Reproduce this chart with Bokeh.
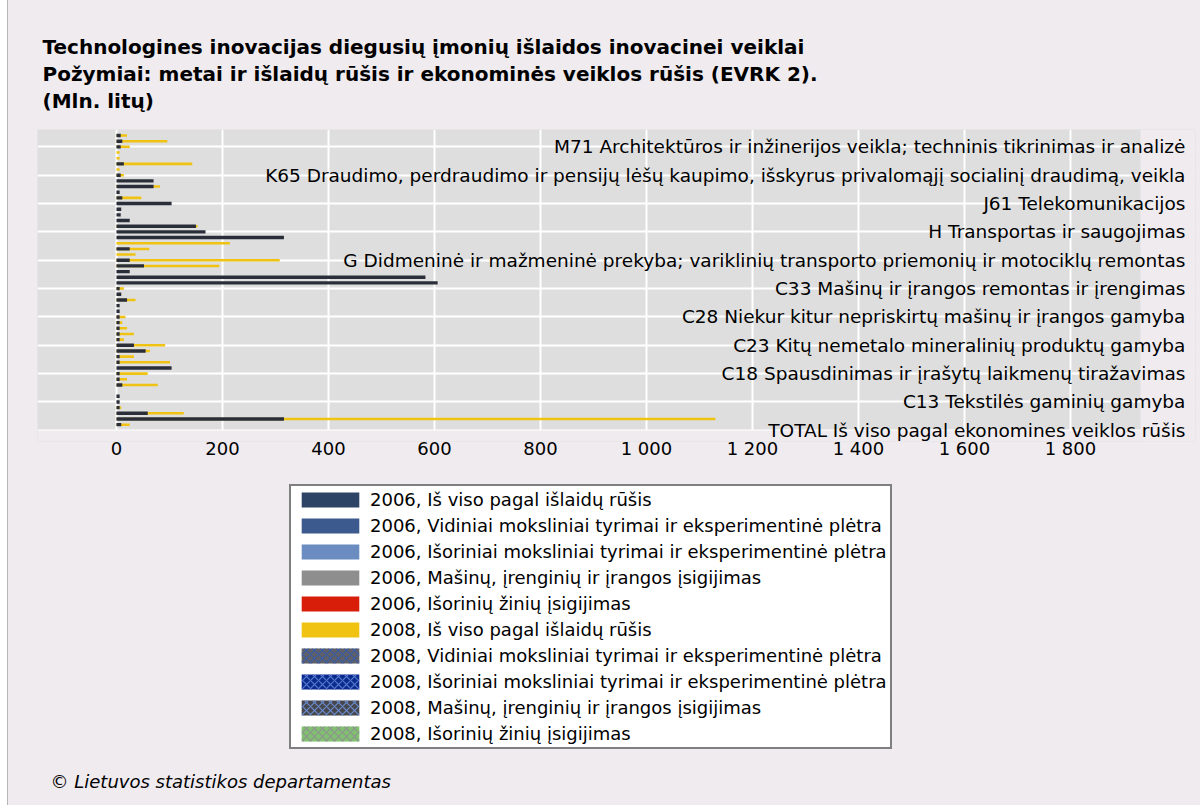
from bokeh.plotting import figure
from bokeh.layouts import column
from bokeh.models import (Range1d, FixedTicker, ColumnDataSource, LabelSet, Title, Label,
                          Legend, LegendItem, BoxAnnotation)
from bokeh.core.properties import value
from bokeh.embed import file_html
from bokeh.resources import INLINE
import numpy as np

# ---------------- data ----------------
title_lines = [
    "Technologines inovacijas diegusių įmonių išlaidos inovacinei veiklai",
    "Požymiai: metai ir išlaidų rūšis ir ekonominės veiklos rūšis (EVRK 2).",
    "(Mln. litų)",
]
credit = "© Lietuvos statistikos departamentas"

activity_labels = [
    "M71 Architektūros ir inžinerijos veikla; techninis tikrinimas ir analizė",
    "K65 Draudimo, perdraudimo ir pensijų lėšų kaupimo, išskyrus privalomąjį socialinį draudimą, veikla",
    "J61 Telekomunikacijos",
    "H Transportas ir saugojimas",
    "G Didmeninė ir mažmeninė prekyba; variklinių transporto priemonių ir motociklų remontas",
    "C33 Mašinų ir įrangos remontas ir įrengimas",
    "C28 Niekur kitur nepriskirtų mašinų ir įrangos gamyba",
    "C23 Kitų nemetalo mineralinių produktų gamyba",
    "C18 Spausdinimas ir įrašytų laikmenų tiražavimas",
    "C13 Tekstilės gaminių gamyba",
    "TOTAL Iš viso pagal ekonomines veiklos rūšis",
]
label_rows = [2, 7, 12, 17, 22, 27, 32, 37, 42, 47, 52]

# bar rows, top to bottom (mln. Lt)
v2006 = [8, 11, 8, 0, 0, 14, 0, 8, 70, 70, 6, 11, 104, 9, 8, 25, 150,
         168, 316, 0, 25, 0, 25, 52, 25, 583, 606, 6, 9, 20, 6, 6, 6,
         6, 6, 6, 6, 33, 55, 6, 6, 104, 6, 6, 11, 0, 6, 6, 6, 59, 316, 9]
v2008 = [20, 96, 25, 6, 6, 143, 6, 14, 0, 82, 0, 47, 0, 0, 0, 0, 153,
         0, 0, 214, 62, 36, 308, 194, 0, 0, 0, 14, 0, 36, 0, 0, 17,
         11, 20, 33, 14, 92, 63, 33, 101, 0, 59, 20, 78, 0, 0, 0, 9, 127, 1130, 25]

series_names = [
    "2006, Iš viso pagal išlaidų rūšis",
    "2006, Vidiniai moksliniai tyrimai ir eksperimentinė plėtra",
    "2006, Išoriniai moksliniai tyrimai ir eksperimentinė plėtra",
    "2006, Mašinų, įrenginių ir įrangos įsigijimas",
    "2006, Išorinių žinių įsigijimas",
    "2008, Iš viso pagal išlaidų rūšis",
    "2008, Vidiniai moksliniai tyrimai ir eksperimentinė plėtra",
    "2008, Išoriniai moksliniai tyrimai ir eksperimentinė plėtra",
    "2008, Mašinų, įrenginių ir įrangos įsigijimas",
    "2008, Išorinių žinių įsigijimas",
]
series_colors = ["#2e4467", "#3d5a8e", "#6b8cc0", "#8e8e8e", "#d81e08",
                 "#f0c312", "#5e6066", "#0b2c8e", "#45474c", "#80c070"]
series_hatch = [None, None, None, None, None,
                None, "x", "x", "x", "x"]
series_hatch_colors = [None, None, None, None, None,
                       None, "#3a5aa8", "#5577cc", "#6a8ad0", "#8c948c"]

x_ticks = [0, 200, 400, 600, 800, 1000, 1200, 1400, 1600, 1800]
x_tick_text = ["0", "200", "400", "600", "800", "1 000", "1 200", "1 400", "1 600", "1 800"]
axis_end = 1932          # end of the grey plotting area
row_end = 52.03          # bottom of the grey plotting area (row units)
label_x = 2017           # right edge of the category texts

BG = "#efebef"
W = 1192

# ---------------- main chart ----------------
p = figure(width=W, height=470, output_backend="svg", toolbar_location=None,
           x_range=Range1d(-149, 2036), y_range=Range1d(53.97, -1.06),
           y_axis_location=None, background_fill_color="#dedede",
           border_fill_color=BG, outline_line_color=None,
           min_border_left=29, min_border_right=5, min_border_top=129,
           min_border_bottom=29)

p.xgrid.ticker = FixedTicker(ticks=x_ticks)
p.xgrid.grid_line_color = "white"
p.xgrid.grid_line_width = 2
p.ygrid.ticker = FixedTicker(ticks=label_rows)
p.ygrid.grid_line_color = "white"
p.ygrid.grid_line_width = 2

# page-coloured strips outside the grey area (cover grid lines there)
p.add_layout(BoxAnnotation(left=axis_end, fill_color=BG, fill_alpha=1,
                           line_color=None, level="underlay"))
p.add_layout(BoxAnnotation(top=row_end, fill_color=BG, fill_alpha=1,
                           line_color=None, level="underlay"))

ax = p.xaxis[0]
ax.ticker = FixedTicker(ticks=x_ticks)
ax.major_label_overrides = {t: s for t, s in zip(x_ticks, x_tick_text)}
ax.axis_line_color = None
ax.major_tick_line_color = None
ax.minor_tick_line_color = None
ax.major_tick_out = 0
ax.major_tick_in = 0
ax.major_label_standoff = -4
ax.major_label_text_font = "DejaVu Sans"
ax.major_label_text_font_size = "18px"
ax.major_label_text_color = "black"

rows = np.arange(len(v2006))
a06 = np.array(v2006, dtype=float)
a08 = np.array(v2008, dtype=float)
m06 = a06 > 0
m08 = a08 > 0
src08 = ColumnDataSource(dict(y=rows[m08], right=a08[m08]))
src06 = ColumnDataSource(dict(y=rows[m06], right=a06[m06]))

p.hbar(y="y", left=0, right="right", height=0.45, source=src08,
       fill_color=series_colors[5], line_color=None)
p.hbar(y="y", left=0, right="right", height=0.6, source=src06,
       fill_color="#2a2e38", line_color=None)

lab_src = ColumnDataSource(dict(y=label_rows, text=activity_labels,
                                x=[label_x] * len(label_rows)))
p.add_layout(LabelSet(x="x", y="y", text="text", source=lab_src,
                      text_align="right", text_baseline="middle",
                      text_font=value("DejaVu Sans"), text_font_size="18.5px",
                      text_color="black"))

p.add_layout(Title(text="\n".join(title_lines), align="left", offset=5, standoff=32,
                   text_font="DejaVu Sans", text_font_style="bold",
                   text_font_size="20px", text_line_height=1.13,
                   text_color="black"), "above")

# ---------------- legend panel ----------------
q = figure(width=W, height=335, output_backend="svg", toolbar_location=None,
           x_range=Range1d(0, 1), y_range=Range1d(0, 1),
           x_axis_location=None, y_axis_location=None,
           background_fill_color=BG, border_fill_color=BG, outline_line_color=None,
           min_border=0)
q.xgrid.visible = False
q.ygrid.visible = False

# legend swatch carriers: one zero-size bar each, placed outside the visible range
items = []
for name, col, hp, hc in zip(series_names, series_colors, series_hatch, series_hatch_colors):
    kw = dict(fill_color=col, line_color=None)
    if hp:
        kw.update(hatch_pattern=hp, hatch_color=hc, hatch_scale=8, hatch_weight=1.2)
    r = q.hbar(y=[-5], left=[0], right=[0], height=0.1, **kw)
    items.append(LegendItem(label=name, renderers=[r]))

legend = Legend(items=items, location=(252, 56))
legend.border_line_color = "black"
legend.border_line_width = 2
legend.background_fill_color = "white"
legend.background_fill_alpha = 1
legend.label_text_font = "DejaVu Sans"
legend.label_text_font_size = "18px"
legend.label_text_color = "black"
legend.glyph_width = 72
legend.glyph_height = 19
legend.label_height = 19
legend.spacing = 5
legend.padding = 3
legend.margin = 0
legend.label_standoff = 4
q.add_layout(legend, "center")

q.add_layout(Label(x=13, y=24, x_units="screen", y_units="screen", text=credit,
                   text_font="DejaVu Sans", text_font_style="italic",
                   text_font_size="18px", text_baseline="middle", text_color="black"))

layout = column(p, q, spacing=0,
                styles={"background-color": BG, "margin-left": "7px",
                        "border-left": "1px solid #b8b4b8"})
open("out.html", "w").write(file_html(layout, INLINE))
